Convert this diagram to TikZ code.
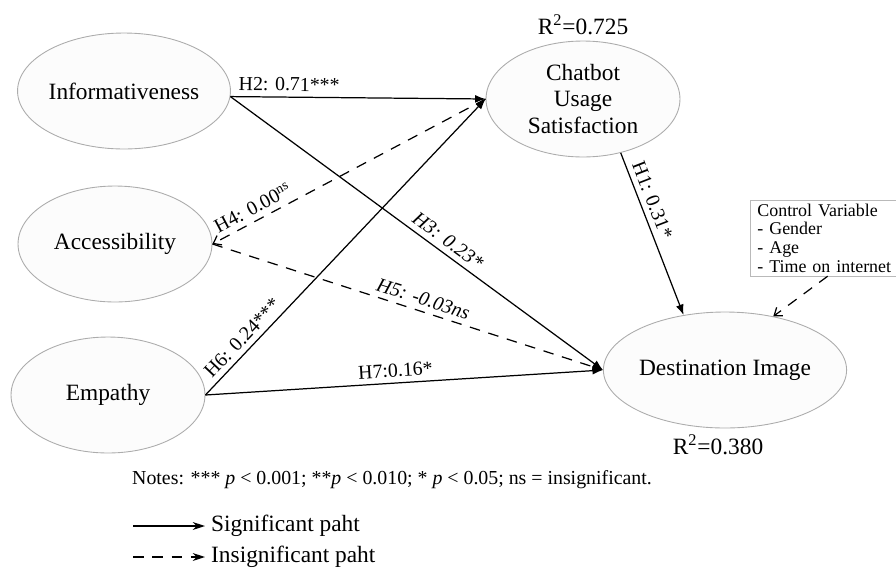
\documentclass[tikz,border=0pt]{standalone}
\usepackage{fontspec}
\setmainfont{Liberation Serif}
\usepackage{tikz}
\usetikzlibrary{shapes.geometric,arrows.meta}

\begin{document}
\begin{tikzpicture}[x=0.02cm,y=-0.02cm,
    construct/.style={ellipse,draw=gray!65,fill=gray!2,line width=0.5pt,
      minimum width=3.88cm,minimum height=2.32cm,inner sep=0pt,align=center,
      font=\fontsize{13.3}{14.8}\selectfont},
    sig/.style={line width=0.7pt,-{Latex[length=6pt,width=4.5pt]}},
    insig/.style={sig,dash pattern=on 6pt off 5pt},
    openend/.style={-{Straight Barb[length=4pt,width=6pt]}},
    lbl/.style={font=\fontsize{11.3}{13}\selectfont,sloped,above,inner sep=3pt},
    lbli/.style={lbl,font=\fontsize{11.3}{13}\selectfont\itshape},
    bigtext/.style={font=\fontsize{13.3}{15}\selectfont}]
  \useasboundingbox (0,0) rectangle (896,569);

  % constructs
  \node[construct] (info) at (124,91) {Informativeness};
  \node[construct] (acc) at (115,244) {Accessibility};
  \node[construct] (emp) at (108,395) {Empathy};
  \node[construct] (chat) at (583,99) {Chatbot\\Usage\\Satisfaction};
  \node[construct] (dest) at (725,370) {Destination Image};

  \node[bigtext] (rchat) at (583,25) {R\textsuperscript{2}=0.725};
  \node[bigtext] (rdest) at (718,445) {R\textsuperscript{2}=0.380};

  \node[draw=gray!55,anchor=north west,align=left,text width=80pt,inner xsep=4pt,inner ysep=2pt,
    font=\fontsize{10.2}{10.6}\selectfont] (ctrl) at (750,200)
    {Control Variable\\- Gender\\- Age\\- Time on internet};

  % paths
  \draw[sig] (info.-3.5) -- node[lbl,pos=0.23] {H2: 0.71***} (chat.west);
  \draw[sig] (info.-3.5) -- node[lbli,pos=0.564] {H3: 0.23*} (dest.west);
  \draw[insig,openend] (chat.west) -- node[lbl,pos=0.83] {H4: 0.00\textsuperscript{ns}} (acc.east);
  \draw[insig] (acc.east) -- node[lbli,pos=0.53] {H5: -0.03ns} (dest.west);
  \draw[sig] (emp.east) -- node[lbl,pos=0.164] {H6: 0.24***} (chat.west);
  \draw[sig] (emp.east) -- node[lbl,pos=0.48] {H7:0.16*} (dest.west);
  \draw[sig] (chat.-55) -- node[lbl,pos=0.32] {H1: 0.31*} (dest.127);
  \draw[insig,openend] (ctrl.south) -- (dest.48);

  \node[anchor=west,font=\fontsize{11.3}{13}\selectfont] (notes) at (126,480)
    {Notes: *** \textit{p} < 0.001; **\textit{p} < 0.010; * \textit{p} < 0.05; ns = insignificant.};

  % legend
  \coordinate (sigstart) at (133,526);
  \node[bigtext,anchor=west] (sigtxt) at (205,526) {Significant paht};
  \draw[line width=0.7pt,-{Stealth[length=7pt,width=4.5pt]}] (sigstart) -- (sigtxt.west);
  \coordinate (insigstart) at (133,557);
  \node[bigtext,anchor=west] (insigtxt) at (205,557) {Insignificant paht};
  \draw[line width=0.7pt,dash pattern=on 6pt off 5pt,-{Stealth[length=7pt,width=4.5pt]}] (insigstart) -- (insigtxt.west);
\end{tikzpicture}
\end{document}
